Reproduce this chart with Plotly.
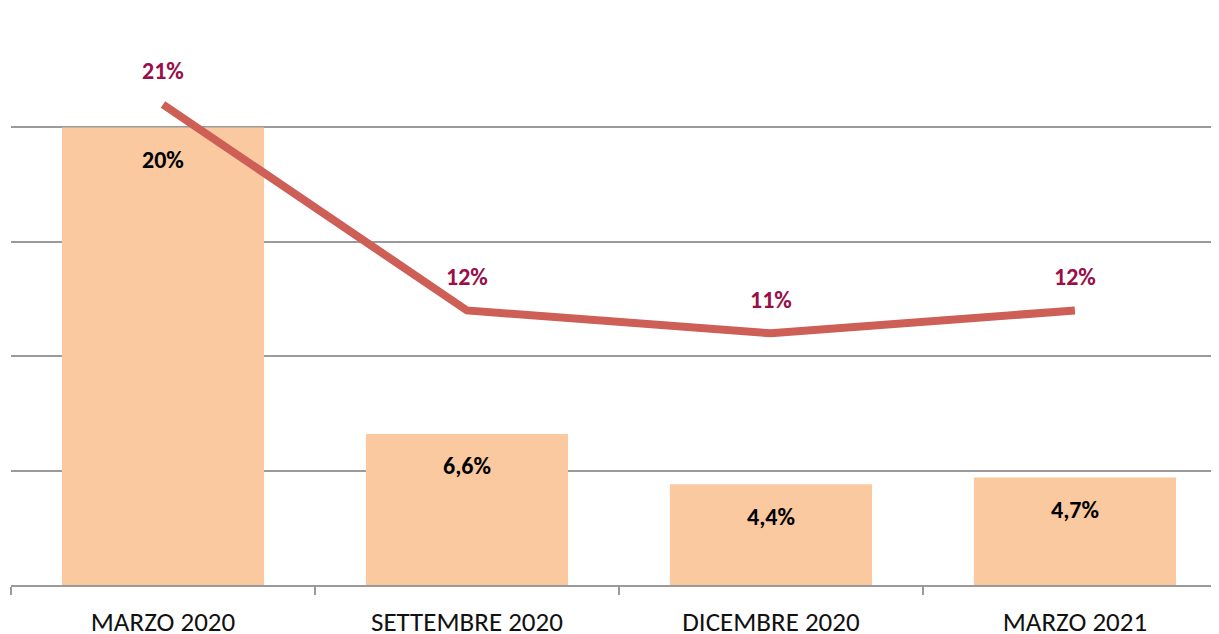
import plotly.graph_objects as go

categories = ["MARZO 2020", "SETTEMBRE 2020", "DICEMBRE 2020", "MARZO 2021"]
bar_values = [20, 6.6, 4.4, 4.7]
bar_labels = ["20%", "6,6%", "4,4%", "4,7%"]
line_values = [21, 12, 11, 12]
line_labels = ["21%", "12%", "11%", "12%"]

FONT = "Carlito, Lato, Liberation Sans Narrow, Liberation Sans, sans-serif"

fig = go.Figure()
fig.add_trace(go.Bar(
    x=categories, y=bar_values, width=0.665,
    marker=dict(color="#FAC99F", line=dict(width=0)),
    hoverinfo="skip", showlegend=False,
))
fig.add_trace(go.Scatter(
    x=categories, y=line_values, mode="lines",
    line=dict(color="#CD5F57", width=8),
    hoverinfo="skip", showlegend=False,
))

for c, v, t in zip(categories, bar_values, bar_labels):
    fig.add_annotation(x=c, y=v, text="<b>" + t + "</b>", showarrow=False, yshift=-32,
                       font=dict(family=FONT, size=24, color="#000000"),
                       xanchor="center", yanchor="middle")
for c, v, t in zip(categories, line_values, line_labels):
    fig.add_annotation(x=c, y=v, text="<b>" + t + "</b>", showarrow=False, yshift=34,
                       font=dict(family=FONT, size=24, color="#990F4A"),
                       xanchor="center", yanchor="middle")

fig.update_layout(
    width=1211, height=626,
    margin=dict(l=3, r=0, t=5, b=49),
    paper_bgcolor="white", plot_bgcolor="white",
    xaxis=dict(
        range=[-0.5, 3.474],
        showgrid=False, showline=True, linecolor="#9A9A9A", linewidth=1.5,
        ticks="outside", tickson="boundaries", ticklen=8, tickcolor="#9A9A9A",
        tickwidth=1.5, ticklabelstandoff=12,
        tickfont=dict(family=FONT, size=27, color="#111111"),
        automargin=False,
    ),
    yaxis=dict(
        range=[0, 25], dtick=5, showticklabels=False,
        showgrid=True, gridcolor="#9A9A9A", gridwidth=1.5,
        zeroline=False, showline=False,
    ),
)

fig.write_html("out.html")
